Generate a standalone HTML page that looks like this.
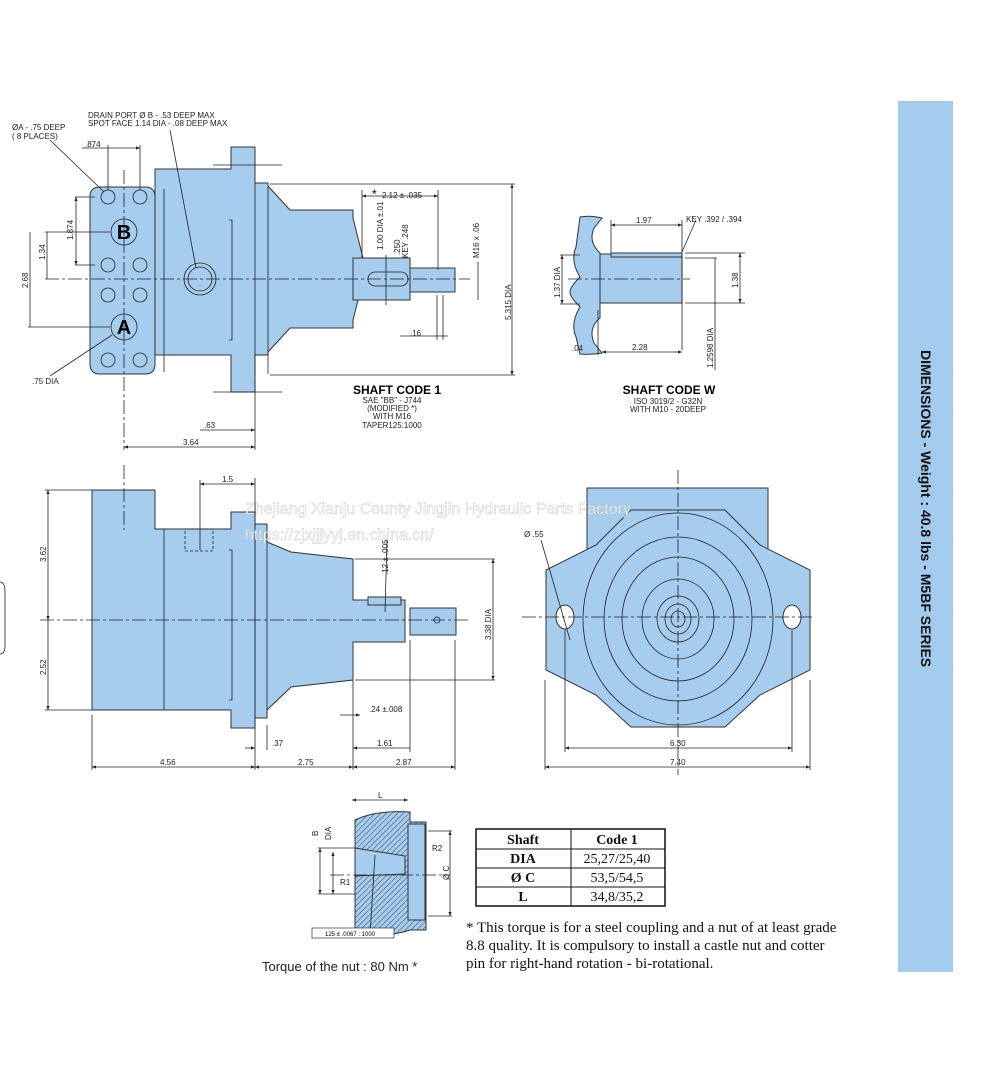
<!DOCTYPE html>
<html><head><meta charset="utf-8"><style>
body{margin:0;background:#fff;}
svg{display:block;font-family:"Liberation Sans",sans-serif;}
.b{fill:#a6cdee;stroke:#333;stroke-width:1;}
.l{stroke:#222;stroke-width:0.8;fill:none;}
.c{stroke:#222;stroke-width:0.8;fill:none;stroke-dasharray:14 3 3 3;}
.t{font-size:8px;fill:#222;}
</style></head><body>
<svg width="1000" height="1076" viewBox="0 0 1000 1076">
<defs>
<pattern id="h" width="4" height="4" patternUnits="userSpaceOnUse" patternTransform="rotate(45)"><rect width="4" height="4" fill="#a6cdee"/><line x1="0" y1="0" x2="0" y2="4" stroke="#345" stroke-width="1"/></pattern>
<marker id="a" markerWidth="6" markerHeight="6" refX="5" refY="3" orient="auto-start-reverse"><path d="M0,1 L5,3 L0,5z" fill="#222"/></marker>
</defs>
<!-- banner -->
<rect x="898" y="101" width="55" height="871" fill="#a3cbee"/>
<text transform="translate(921,350) rotate(90)" font-size="14" font-weight="bold" fill="#111">DIMENSIONS - Weight : 40.8 lbs - M5BF SERIES</text>

<!-- TOP VIEW -->
<path class="b" d="M231,147 h24 v36 h13 v3 l22,24 h63 v8 l10,40 h47 v22 h-47 l-10,40 v8 h-63 l-22,24 v3 h-13 v37 h-24 v-37 h-76 v-186 h76z"/>
<rect class="b" x="353" y="258" width="57" height="42"/>
<rect class="b" x="410" y="268" width="45" height="24"/>
<path class="b" d="M100,187 h45 q10,0 10,10 v167 q0,10 -10,10 h-45 q-10,0 -10,-10 v-167 q0,-10 10,-10z"/>
<line class="l" x1="255" y1="183" x2="255" y2="376"/><line class="l" x1="268" y1="186" x2="268" y2="374"/>
<line class="l" x1="164" y1="189" x2="164" y2="372"/>
<path class="l" d="M229,220 h3 v120 h-3"/>
<rect class="l" x="368" y="272" width="40" height="14" rx="7"/>
<g class="l">
<circle cx="108" cy="197" r="7"/><circle cx="140" cy="197" r="7"/>
<circle cx="108" cy="265" r="7"/><circle cx="140" cy="265" r="7"/>
<circle cx="108" cy="295" r="7"/><circle cx="140" cy="295" r="7"/>
<circle cx="108" cy="360" r="7"/><circle cx="140" cy="360" r="7"/>
<circle cx="124" cy="232" r="13"/><circle cx="124" cy="327" r="13"/>
<circle cx="200" cy="279" r="16"/><circle cx="200" cy="279" r="12"/>
</g>
<text x="124" y="239" font-size="20" font-weight="bold" text-anchor="middle">B</text>
<text x="124" y="334" font-size="20" font-weight="bold" text-anchor="middle">A</text>
<line class="c" x1="45" y1="279" x2="470" y2="279"/>
<line class="c" x1="124" y1="170" x2="124" y2="450"/>
<g class="l">
<line x1="75" y1="197" x2="95" y2="197"/><line x1="75" y1="265" x2="95" y2="265"/>
<line x1="76" y1="197" x2="76" y2="265" marker-start="url(#a)" marker-end="url(#a)"/>
<line x1="45" y1="232" x2="110" y2="232"/><line x1="28" y1="327" x2="110" y2="327"/>
<line x1="47" y1="232" x2="47" y2="279"/><line x1="30" y1="232" x2="30" y2="327"/>
<line x1="108" y1="145" x2="108" y2="190"/><line x1="140" y1="145" x2="140" y2="190"/>
<line x1="82" y1="148" x2="140" y2="148" marker-end="url(#a)"/>
<line x1="255" y1="380" x2="255" y2="450"/>
<line x1="124" y1="447" x2="255" y2="447" marker-start="url(#a)" marker-end="url(#a)"/>
<line x1="200" y1="430" x2="255" y2="430" marker-end="url(#a)"/>
<line x1="270" y1="184" x2="515" y2="184"/><line x1="270" y1="375" x2="515" y2="375"/>
<line x1="512" y1="184" x2="512" y2="375" marker-start="url(#a)" marker-end="url(#a)"/>
<line x1="362" y1="196" x2="438" y2="196" marker-start="url(#a)" marker-end="url(#a)"/>
<line x1="362" y1="190" x2="362" y2="258"/><line x1="438" y1="190" x2="438" y2="270"/>
<line x1="386" y1="255" x2="386" y2="305"/>
<line x1="478" y1="262" x2="478" y2="300"/>
<line x1="400" y1="336" x2="448" y2="336"/><line x1="437" y1="295" x2="437" y2="340"/><line x1="443" y1="295" x2="443" y2="340"/>
<line x1="213" y1="165" x2="282" y2="165"/><line x1="213" y1="392" x2="282" y2="392"/>
<line x1="170" y1="130" x2="196" y2="268"/>
<line x1="50" y1="140" x2="104" y2="192"/>
<line x1="50" y1="376" x2="112" y2="335"/>
</g>
<g class="t">
<text x="88" y="118">DRAIN PORT Ø B - .53  DEEP MAX</text>
<text x="88" y="126">SPOT FACE  1.14 DIA - .08 DEEP MAX</text>
<text x="12" y="130">ØA - .75 DEEP</text><text x="12" y="139">( 8 PLACES)</text>
<text x="85" y="147">.874</text>
<text x="32" y="384">.75 DIA</text>
<text x="204" y="428">.63</text>
<text x="183" y="445">3.64</text>
<text x="410" y="336">.16</text>
<text transform="translate(73,240) rotate(-90)">1.874</text>
<text transform="translate(45,260) rotate(-90)">1.34</text>
<text transform="translate(28,288) rotate(-90)">2.68</text>
<text transform="translate(383,250) rotate(-90)">1.00 DIA ±.01</text>
<text transform="translate(400,255) rotate(-90)">.250</text>
<text transform="translate(408,258) rotate(-90)">KEY .248</text>
<text transform="translate(479,258) rotate(-90)">M16 x .06</text>
<text transform="translate(511,320) rotate(-90)">5.315 DIA</text>
</g>
<text x="372" y="198" font-size="12">*</text><text x="382" y="198" class="t">2.12  ± .035</text>
<text x="397" y="394" font-size="12" font-weight="bold" text-anchor="middle">SHAFT  CODE 1</text>
<g class="t" text-anchor="middle" font-size="7"><text x="392" y="403">SAE "BB" - J744</text><text x="392" y="411">(MODIFIED  *)</text><text x="392" y="419">WITH M16</text><text x="392" y="428">TAPER125:1000</text></g>

<!-- SHAFT CODE W -->
<path class="b" d="M580,217 q10,-2 22,1 l-8,10 q-6,14 6,25 v65 q-12,10 -6,25 l8,10 q-12,2 -22,1 l-4,-17 q-6,-14 4,-30 q-10,-10 -10,-15 q0,-5 10,-15 q-10,-16 -4,-30z"/>
<rect class="b" x="600" y="254" width="82" height="49"/>
<rect class="b" x="611" y="253" width="71" height="4"/>
<line class="c" x1="568" y1="279" x2="690" y2="279"/>
<g class="l">
<line x1="611" y1="225" x2="682" y2="225" marker-start="url(#a)" marker-end="url(#a)"/>
<line x1="611" y1="220" x2="611" y2="253"/><line x1="682" y1="220" x2="682" y2="350"/>
<line x1="602" y1="352" x2="682" y2="352" marker-start="url(#a)" marker-end="url(#a)"/>
<line x1="598" y1="310" x2="598" y2="355"/>
<line x1="685" y1="253" x2="745" y2="253"/><line x1="685" y1="303" x2="745" y2="303"/>
<line x1="740" y1="253" x2="740" y2="303" marker-start="url(#a)" marker-end="url(#a)"/>
<line x1="560" y1="255" x2="580" y2="255"/><line x1="560" y1="304" x2="580" y2="304"/>
<line x1="562" y1="255" x2="562" y2="304" marker-start="url(#a)" marker-end="url(#a)"/>
<line x1="685" y1="258" x2="717" y2="258"/><line x1="715" y1="258" x2="715" y2="370"/>
<line x1="682" y1="252" x2="696" y2="220"/>
</g>
<g class="t"><text x="636" y="223">1.97</text><text x="686" y="222">KEY .392 / .394</text><text x="572" y="351">.04</text><text x="632" y="350">2.28</text>
<text transform="translate(560,298) rotate(-90)">1.37 DIA</text><text transform="translate(738,288) rotate(-90)">1.38</text><text transform="translate(713,368) rotate(-90)">1.2598 DIA</text></g>
<text x="669" y="394" font-size="12" font-weight="bold" text-anchor="middle">SHAFT CODE W</text>
<g class="t" text-anchor="middle" font-size="7"><text x="668" y="404">ISO 3019/2 - G32N</text><text x="668" y="412">WITH M10 - 20DEEP</text></g>

<!-- SIDE VIEW -->
<path class="b" d="M92,490 h63 v39 h76 v-17 h24 v12 h12 v18 L291,552 L353,559 V600 H405 V642 H353 V680 L291,687 L267,710 v8 h-12 v10 h-24 v-18 h-139 z"/>
<rect class="b" x="410" y="608" width="46" height="27"/>
<line class="l" x1="164" y1="529" x2="164" y2="710"/><line class="l" x1="255" y1="524" x2="255" y2="718"/><line class="l" x1="267" y1="524" x2="267" y2="718"/>
<path class="l" d="M229,550 h3 v150 h-3"/>
<rect class="l" x="185" y="529" width="28" height="22" stroke-dasharray="3 2"/>
<rect class="b" x="368" y="597" width="33" height="8"/>
<circle class="l" cx="437" cy="620" r="3"/>
<line class="c" x1="40" y1="620" x2="470" y2="620"/>
<line class="c" x1="124" y1="465" x2="124" y2="530"/>
<g class="l">
<line x1="45" y1="490" x2="92" y2="490"/><line x1="45" y1="710" x2="92" y2="710"/>
<line x1="48" y1="490" x2="48" y2="620" marker-start="url(#a)" marker-end="url(#a)"/>
<line x1="48" y1="620" x2="48" y2="710" marker-end="url(#a)"/>
<line x1="200" y1="484" x2="255" y2="484" marker-start="url(#a)" marker-end="url(#a)"/>
<line x1="200" y1="480" x2="200" y2="550"/>
<line x1="255" y1="478" x2="255" y2="770"/><line x1="92" y1="715" x2="92" y2="770"/>
<line x1="353" y1="680" x2="353" y2="770"/><line x1="455" y1="640" x2="455" y2="770"/>
<line x1="267" y1="725" x2="267" y2="750"/>
<line x1="92" y1="767" x2="255" y2="767" marker-start="url(#a)" marker-end="url(#a)"/>
<line x1="255" y1="767" x2="353" y2="767" marker-start="url(#a)" marker-end="url(#a)"/>
<line x1="353" y1="767" x2="455" y2="767" marker-start="url(#a)" marker-end="url(#a)"/>
<line x1="353" y1="748" x2="410" y2="748" marker-start="url(#a)"/><line x1="410" y1="640" x2="410" y2="752"/>
<line x1="245" y1="748" x2="255" y2="748" marker-end="url(#a)"/>
<line x1="340" y1="715" x2="360" y2="715" marker-end="url(#a)"/>
<line x1="355" y1="559" x2="495" y2="559"/><line x1="355" y1="680" x2="495" y2="680"/>
<line x1="493" y1="559" x2="493" y2="680" marker-start="url(#a)" marker-end="url(#a)"/>
<line x1="387" y1="540" x2="385" y2="612"/>
</g>
<g class="t"><text x="222" y="482">1.5</text><text x="160" y="765">4.56</text><text x="298" y="765">2.75</text><text x="396" y="765">2.87</text>
<text x="272" y="746">.37</text><text x="377" y="746">1.61</text><text x="369" y="712">.24 ±.008</text>
<text transform="translate(46,562) rotate(-90)">3.62</text><text transform="translate(46,675) rotate(-90)">2.52</text>
<text transform="translate(491,640) rotate(-90)">3.38 DIA</text><text transform="translate(388,575) rotate(-90)">.12 ± .005</text></g>

<!-- FRONT VIEW -->
<rect class="b" x="587" y="488" width="181" height="100"/>
<path class="b" d="M596,545 l35,-35 h94 l35,35 l50,25 v100 l-50,25 l-35,32 h-94 l-35,-32 l-50,-25 v-100z"/>
<g class="l">
<ellipse cx="678" cy="619" rx="95" ry="106"/><ellipse cx="678" cy="619" rx="74" ry="82"/><ellipse cx="678" cy="619" rx="56" ry="62"/><ellipse cx="678" cy="619" rx="36" ry="40"/><ellipse cx="678" cy="619" rx="21" ry="23"/><ellipse cx="678" cy="619" rx="13" ry="15"/><ellipse cx="678" cy="619" rx="7" ry="8"/>
</g>
<ellipse cx="565" cy="617" rx="9" ry="12" fill="#fff" stroke="#333"/>
<ellipse cx="792" cy="617" rx="9" ry="12" fill="#fff" stroke="#333"/>
<line class="c" x1="522" y1="617" x2="815" y2="617"/><line class="c" x1="678" y1="470" x2="678" y2="775"/>
<g class="l">
<line x1="565" y1="630" x2="565" y2="752"/><line x1="792" y1="630" x2="792" y2="752"/>
<line x1="545" y1="680" x2="545" y2="770"/><line x1="810" y1="680" x2="810" y2="770"/>
<line x1="565" y1="748" x2="792" y2="748" marker-start="url(#a)" marker-end="url(#a)"/>
<line x1="545" y1="767" x2="810" y2="767" marker-start="url(#a)" marker-end="url(#a)"/>
<line x1="541" y1="540" x2="570" y2="640"/>
</g>
<g class="t"><text x="524" y="537">Ø .55</text><text x="670" y="746">6.30</text><text x="670" y="765">7.40</text></g>
<g font-size="16" fill="#fff" stroke="#bbb" stroke-width="0.4" opacity="0.9"><text x="245" y="514">Zhejiang Xianju County Jingjin Hydraulic Parts Factory</text><text x="245" y="540">https://zjxjjjyyj.en.china.cn/</text></g>
<path d="M0,582 q5,0 5,10 v54 q0,8 -5,8" class="l"/>

<!-- SECTION -->
<path fill="url(#h)" stroke="#333" d="M355,820 q20,-10 55,-8 v10 h16 v108 h-16 q-30,10 -55,-2z"/>
<path class="b" d="M355,848 l50,8 v18 l-50,2z"/>
<rect class="b" x="408" y="824" width="17" height="96"/>
<line class="c" x1="330" y1="875" x2="450" y2="875"/>
<g class="l">
<line x1="352" y1="800" x2="408" y2="800" marker-start="url(#a)" marker-end="url(#a)"/>
<line x1="318" y1="848" x2="355" y2="848"/><line x1="318" y1="894" x2="355" y2="894"/>
<line x1="320" y1="848" x2="320" y2="894" marker-start="url(#a)" marker-end="url(#a)"/>
<line x1="333" y1="852" x2="333" y2="894" marker-start="url(#a)" marker-end="url(#a)"/>
<line x1="428" y1="831" x2="452" y2="831"/><line x1="428" y1="916" x2="452" y2="916"/>
<line x1="450" y1="831" x2="450" y2="916" marker-start="url(#a)" marker-end="url(#a)"/>
<line x1="375" y1="855" x2="370" y2="935"/>
</g>
<rect x="312" y="928" width="82" height="10" fill="#fff" stroke="#333" stroke-width="0.7"/>
<text x="325" y="936" font-size="6">125 ± .0067 : 1000</text>
<g class="t" font-size="7"><text x="378" y="798">L</text><text x="432" y="851">R2</text><text x="340" y="885">R1</text>
<text transform="translate(318,836) rotate(-90)">B</text><text transform="translate(331,840) rotate(-90)">DIA</text><text transform="translate(449,880) rotate(-90)">Ø C</text></g>
<text x="262" y="971" font-size="13" fill="#222">Torque of the nut : 80 Nm *</text>
<g font-family="Liberation Serif,serif" fill="#111">
<rect x="476" y="829" width="189" height="77" fill="none" stroke="#111" stroke-width="1.5"/>
<g stroke="#111" stroke-width="1"><line x1="476" y1="849" x2="665" y2="849"/><line x1="476" y1="868" x2="665" y2="868"/><line x1="476" y1="887" x2="665" y2="887"/><line x1="571" y1="829" x2="571" y2="906"/></g>
<g font-size="14" text-anchor="middle" font-weight="bold"><text x="523" y="844">Shaft</text><text x="617" y="844">Code 1</text><text x="523" y="863">DIA</text><text x="523" y="882">Ø C</text><text x="523" y="901">L</text></g>
<g font-size="14" text-anchor="middle"><text x="617" y="863">25,27/25,40</text><text x="617" y="882">53,5/54,5</text><text x="617" y="901">34,8/35,2</text></g>
<g font-size="15"><text x="466" y="932">* This torque is for a steel coupling and a nut of at least grade</text><text x="466" y="950">8.8 quality. It is compulsory to install a castle nut and cotter</text><text x="466" y="968">pin for right-hand rotation - bi-rotational.</text></g>
</g>
</svg>
</body></html>
